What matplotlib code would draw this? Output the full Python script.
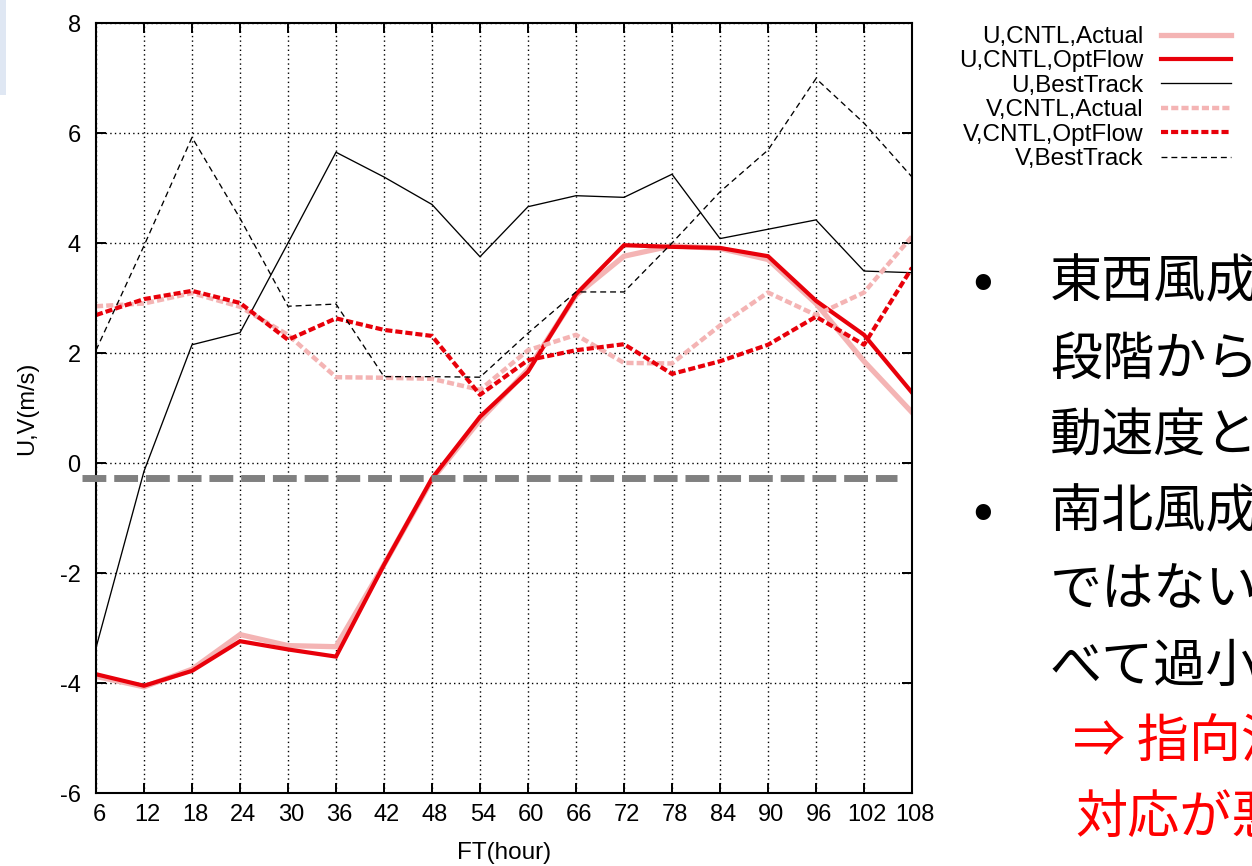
import matplotlib
matplotlib.use("Agg")
import matplotlib.pyplot as plt
import matplotlib.transforms as mtransforms
from matplotlib.patches import Rectangle

plt.rcParams["axes.unicode_minus"] = False

# ---------------- data ----------------
hours = [6, 12, 18, 24, 30, 36, 42, 48, 54, 60, 66, 72, 78, 84, 90, 96, 102, 108]
u_cntl_actual = [-3.88, -4.07, -3.75, -3.12, -3.32, -3.34, -1.85, -0.30, 0.78, 1.70,
                 3.05, 3.76, 3.95, 3.90, 3.70, 2.90, 1.85, 0.92]
u_cntl_optflow = [-3.84, -4.05, -3.78, -3.24, -3.39, -3.52, -1.85, -0.28, 0.84, 1.66,
                  3.07, 3.96, 3.93, 3.91, 3.76, 2.95, 2.33, 1.28]
u_besttrack = [-3.36, -0.15, 2.15, 2.37, 4.00, 5.65, 5.20, 4.70, 3.75, 4.66,
               4.86, 4.83, 5.25, 4.08, 4.25, 4.42, 3.49, 3.46]
v_cntl_actual = [2.85, 2.90, 3.09, 2.84, 2.33, 1.56, 1.55, 1.53, 1.33, 2.05,
                 2.33, 1.82, 1.81, 2.50, 3.10, 2.69, 3.10, 4.12]
v_cntl_optflow = [2.69, 2.98, 3.13, 2.91, 2.24, 2.63, 2.42, 2.31, 1.24, 1.87,
                  2.05, 2.16, 1.62, 1.85, 2.15, 2.66, 2.15, 3.55]
v_besttrack = [2.05, 3.95, 5.92, 4.45, 2.85, 2.89, 1.57, 1.57, 1.56, 2.36,
               3.11, 3.11, 4.00, 4.93, 5.69, 6.99, 6.18, 5.20]
labels = ["U,CNTL,Actual", "U,CNTL,OptFlow", "U,BestTrack",
          "V,CNTL,Actual", "V,CNTL,OptFlow", "V,BestTrack"]
ref_level = -0.27
xticks = list(range(6, 109, 6))
yticks = list(range(-6, 9, 2))

text_lines = [
    ("•", "東西風成", "black", 1050),
    (None, "段階からず", "black", 1050),
    (None, "動速度とよ", "black", 1050),
    ("•", "南北風成", "black", 1050),
    (None, "ではないが", "black", 1050),
    (None, "べて過小", "black", 1050),
    (None, "⇒ 指向流", "#ff0000", 1073),
    (None, "対応が悪", "#ff0000", 1075),
]
text_y = [283, 360, 437, 513, 590, 667, 743, 818]

# ---------------- figure ----------------
W, H = 1252, 866
fig = plt.figure(figsize=(W / 100, H / 100), dpi=100)
fig.patch.set_facecolor("white")
fig.patches.append(Rectangle((0, 1 - 95 / H), 6 / W, 95 / H, transform=fig.transFigure,
                             facecolor="#dfe7f3", edgecolor="none"))

ax = fig.add_axes([96 / W, 1 - 793 / H, 816 / W, 770 / H])

RED = "#e8000a"
PINK = "#f4b4b4"
font = "Liberation Sans"

ax.plot(hours, u_cntl_actual, color=PINK, lw=3.8, solid_joinstyle="miter", label=labels[0])
ax.plot(hours, u_cntl_optflow, color=RED, lw=3.0, solid_joinstyle="miter", label=labels[1])
ax.plot(hours, u_besttrack, color="black", lw=0.95, label=labels[2])
ax.plot(hours, v_cntl_actual, color=PINK, lw=3.2, dashes=(1.6, 0.7), label=labels[3])
ax.plot(hours, v_cntl_optflow, color=RED, lw=3.0, dashes=(1.7, 0.72), label=labels[4])
ax.plot(hours, v_besttrack, color="black", lw=0.95, dashes=(4.5, 3.0), label=labels[5])

ax.axhline(ref_level, xmin=(82 - 96) / 816, xmax=(897 - 96) / 816, color="#808080",
           lw=5.0, dashes=(3.43, 1.14), clip_on=False, zorder=10)

ax.set_xlim(6, 108)
ax.set_ylim(-6, 8)
ax.set_xticks(xticks)
ax.set_yticks(yticks)
ax.grid(True, color="black", linestyle=(0, (1, 2.3)), lw=1.0)
ax.tick_params(direction="in", top=True, right=True, length=7, width=1.4,
               labelsize=17)
ax.tick_params(axis="x", pad=8)
ax.tick_params(axis="y", pad=11)
shift = mtransforms.ScaledTranslation(3 / 100, 0, fig.dpi_scale_trans)
for lab in ax.get_xticklabels():
    lab.set_fontfamily(font)
    lab.set_transform(lab.get_transform() + shift)
for lab in ax.get_yticklabels():
    lab.set_fontfamily(font)
for sp in ax.spines.values():
    sp.set_linewidth(1.5)

ax.set_xlabel("FT(hour)", fontsize=17.5, family=font)
ax.set_ylabel("U,V(m/s)", fontsize=17, family=font)
ax.xaxis.set_label_coords(0.5, (793 - 853) / 770)
ax.xaxis.label.set_va("center")
ax.yaxis.set_label_coords((27 - 96) / 816, 0.5)
ax.yaxis.label.set_va("center")

leg = fig.legend(loc="upper right", bbox_to_anchor=(1231 / W, 1 - 26 / H),
                 frameon=False, markerfirst=False, borderpad=0, borderaxespad=0,
                 handlelength=2.9, handletextpad=0.7, labelspacing=0.1,
                 prop={"family": font, "size": 17.5})

cjk = ["Noto Sans CJK JP", "DejaVu Sans"]
for (bullet, txt, col, x0), yy in zip(text_lines, text_y):
    if bullet:
        fig.text(983 / W, 1 - yy / H, bullet, fontsize=44, family=cjk, color="black",
                 ha="center", va="center")
    fig.text(x0 / W, 1 - yy / H, txt, fontsize=37.5, family=cjk, color=col,
             ha="left", va="center")

fig.savefig("out.png", dpi=100, facecolor="white")
